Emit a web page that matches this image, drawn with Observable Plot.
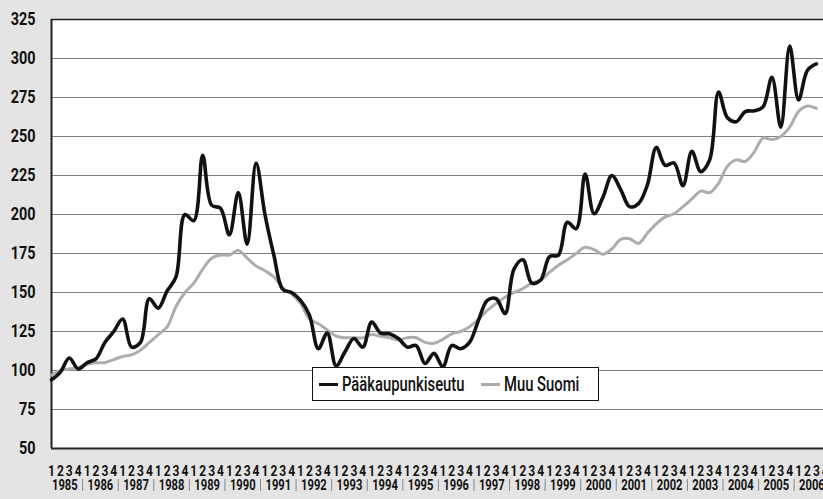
<!DOCTYPE html>
<html>
<head>
<meta charset="utf-8">
<script src="https://cdn.jsdelivr.net/npm/d3@7"></script>
<script src="https://cdn.jsdelivr.net/npm/@observablehq/plot@0.6"></script>
<style>
  html, body { margin: 0; padding: 0; background: #e4e4e4; overflow: hidden; }
  #wrap { position: relative; width: 823px; height: 499px; overflow: hidden; }
  #legend {
    position: absolute; left: 312px; top: 367px; width: 287px; height: 34px;
    box-sizing: border-box; border: 1.5px solid #111; background: #fff;
    font-family: Roboto, "Noto Sans", sans-serif; font-weight: 500;
    font-size: 20px; color: #111; white-space: nowrap;
  }
  #legend .sw { position: absolute; top: 15px; width: 19px; height: 3px; }
  #legend .lab { position: absolute; top: 4px; line-height: 24px; transform: scaleX(0.74); transform-origin: 0 50%; }
</style>
</head>
<body>
<div id="wrap">
  <div id="chart"></div>
  <div id="legend">
    <span class="sw" style="background:#111;left:6px;"></span><span class="lab" id="lab0" style="left:29px;"></span>
    <span class="sw" style="background:#aaa;left:168px;"></span><span class="lab" id="lab1" style="left:191px;"></span>
  </div>
</div>
<script>
const years = [1985,1986,1987,1988,1989,1990,1991,1992,1993,1994,1995,1996,1997,1998,1999,2000,2001,2002,2003,2004,2005,2006];
const quarterLabels = ["1","2","3","4"];
const yTicks = [50,75,100,125,150,175,200,225,250,275,300,325];
const seriesNames = ["Pääkaupunkiseutu", "Muu Suomi"];

// quarterly values 1985Q1 .. 2006Q3
const paakaupunkiseutu = [
  94, 99, 108, 101, 105, 107.5, 118, 125, 133, 115, 118, 146,
  140, 151, 160, 200, 196, 238, 206, 204, 187, 214, 181, 233,
  200, 174, 152, 150, 145, 135.5, 114, 124, 103, 112, 120.5, 115,
  131, 124, 123.5, 120.5, 115, 116, 104.5, 111, 102.5, 116, 114, 118,
  132, 145, 146, 136.5, 165, 171, 156, 158, 173, 174, 195, 191,
  226, 200.5, 211, 225, 216, 205, 207, 219, 243, 231.5, 233, 218.5,
  240.5, 227.5, 235, 278.5, 262, 259.5, 266, 266.5, 269, 288, 256, 308,
  273.5, 292.5, 296.5
];
const muuSuomi = [
  97, 100, 101, 102, 104, 105, 105, 107, 109, 110, 113, 118,
  123, 128, 141, 150, 156, 165, 172, 174, 174, 177, 172, 167,
  164, 160, 153, 149, 143, 133, 130, 126, 122, 121, 121, 121,
  123, 122, 121, 119.5, 121, 121, 118, 117.5, 120, 123.5, 125, 128,
  133, 138.5, 143, 147, 150, 152.5, 156, 158, 163, 167.5, 171, 175,
  179, 177.5, 174.5, 178, 184, 184.5, 181.5, 188, 194, 198.5, 200.5, 205,
  210, 215, 214, 220, 231, 235, 234, 240, 249, 248, 250, 256,
  266, 269.5, 268
];

document.getElementById("lab0").textContent = seriesNames[0];
document.getElementById("lab1").textContent = seriesNames[1];

const rows = [
  ...paakaupunkiseutu.map((v, i) => ({i, v, s: seriesNames[0]})),
  ...muuSuomi.map((v, i) => ({i, v, s: seriesNames[1]}))
];

const quarterTicks = d3.range(years.length * 4);
const yearTicks = years.map((y, k) => 4 * k + 1.5);
const sepTicks = years.map((y, k) => 4 * k + 3.5);
const font = 'Roboto, "Noto Sans", sans-serif';

const chart = Plot.plot({
  width: 823,
  height: 499,
  marginLeft: 51,
  marginRight: 0,
  marginTop: 19,
  marginBottom: 51,
  style: {background: "transparent", fontFamily: font, color: "#111", overflow: "hidden"},
  x: {domain: [0, 86.8], axis: null},
  y: {domain: [50, 325], axis: null},
  marks: [
    Plot.frame({fill: "#fff", stroke: null}),
    Plot.ruleY(yTicks.filter(t => t > 50 && t < 325), {stroke: "#808080", strokeWidth: 1}),
    Plot.ruleY([325], {stroke: "#222", strokeWidth: 1.6}),
    Plot.ruleY([50], {stroke: "#222", strokeWidth: 2}),
    Plot.ruleX([0], {stroke: "#222", strokeWidth: 2}),
    Plot.line(rows.filter(d => d.s === seriesNames[1]), {x: "i", y: "v", stroke: "#adadad", strokeWidth: 3, curve: "catmull-rom"}),
    Plot.line(rows.filter(d => d.s === seriesNames[0]), {x: "i", y: "v", stroke: "#111", strokeWidth: 3.6, curve: "catmull-rom"}),
    Plot.axisY(yTicks, {label: null, tickSize: 0, tickPadding: 16, fontSize: 18, fontWeight: "bold", fontFamily: font, tickFormat: d => String(d)}),
    Plot.axisX(quarterTicks, {label: null, tickSize: 0, tickPadding: 17, lineAnchor: "top", fontSize: 15, fontWeight: "bold", fontFamily: font, tickFormat: i => quarterLabels[i % 4]}),
    Plot.axisX(yearTicks, {label: null, tickSize: 0, tickPadding: 32, lineAnchor: "top", fontSize: 14, fontWeight: "bold", fontFamily: font, tickFormat: t => String(years[(t - 1.5) / 4])}),
    Plot.axisX(sepTicks, {label: null, tickSize: 12, dy: 31, text: null, stroke: "#888", strokeWidth: 1})
  ]
});
document.getElementById("chart").appendChild(chart);

// condensed look: squeeze glyphs horizontally around their anchors
chart.querySelectorAll("text").forEach(t => {
  const w = t.getComputedTextLength();
  if (w > 0) {
    t.setAttribute("textLength", (w * 0.8).toFixed(2));
    t.setAttribute("lengthAdjust", "spacingAndGlyphs");
  }
});
</script>
</body>
</html>
